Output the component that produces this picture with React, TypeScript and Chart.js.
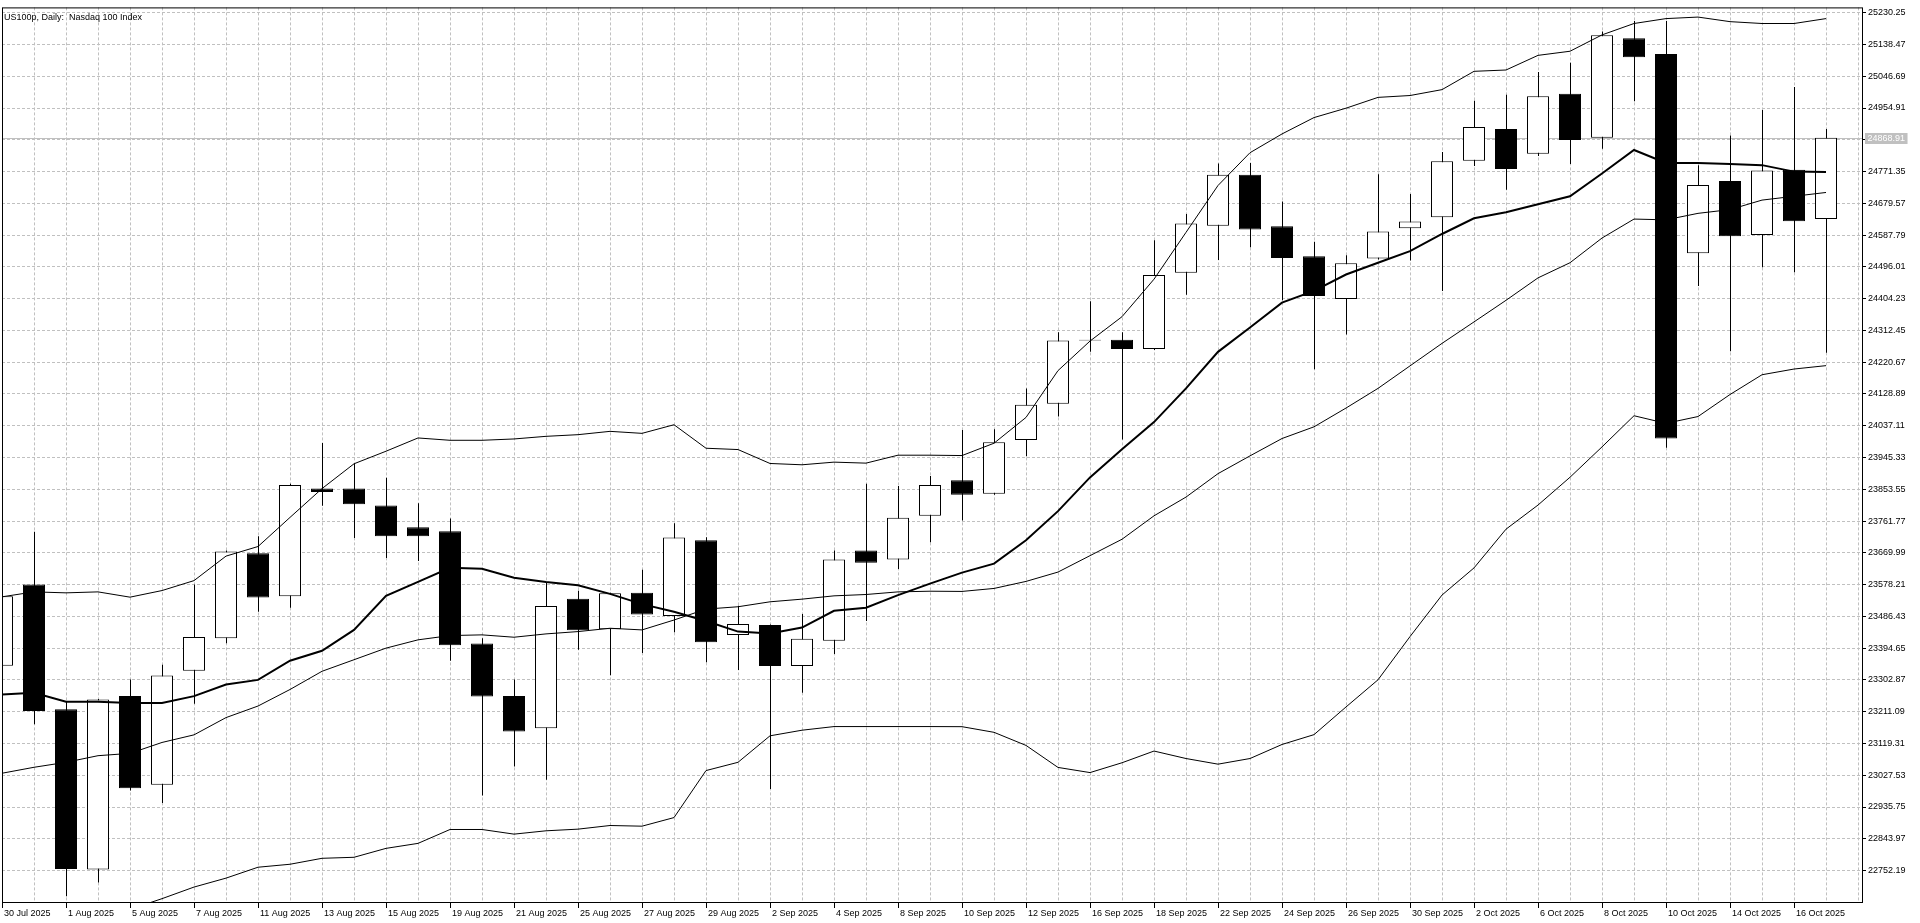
import { useEffect, useRef } from "react";
import { Chart, registerables } from "chart.js";

Chart.register(...registerables);

const TITLE = "US100p, Daily:  Nasdaq 100 Index";

const DATES = [
  "30 Jul 2025", "31 Jul 2025", "1 Aug 2025", "4 Aug 2025", "5 Aug 2025", "6 Aug 2025", "7 Aug 2025", "8 Aug 2025",
  "11 Aug 2025", "12 Aug 2025", "13 Aug 2025", "14 Aug 2025", "15 Aug 2025", "18 Aug 2025", "19 Aug 2025", "20 Aug 2025",
  "21 Aug 2025", "22 Aug 2025", "25 Aug 2025", "26 Aug 2025", "27 Aug 2025", "28 Aug 2025", "29 Aug 2025", "1 Sep 2025",
  "2 Sep 2025", "3 Sep 2025", "4 Sep 2025", "5 Sep 2025", "8 Sep 2025", "9 Sep 2025", "10 Sep 2025", "11 Sep 2025",
  "12 Sep 2025", "15 Sep 2025", "16 Sep 2025", "17 Sep 2025", "18 Sep 2025", "19 Sep 2025", "22 Sep 2025", "23 Sep 2025",
  "24 Sep 2025", "25 Sep 2025", "26 Sep 2025", "29 Sep 2025", "30 Sep 2025", "1 Oct 2025", "2 Oct 2025", "3 Oct 2025",
  "6 Oct 2025", "7 Oct 2025", "8 Oct 2025", "9 Oct 2025", "10 Oct 2025", "13 Oct 2025", "14 Oct 2025", "15 Oct 2025",
  "16 Oct 2025", "17 Oct 2025",
];

const OPEN = [
  23344.0, 23578.3, 23217.8, 22755.1, 23256.1, 22999.9, 23329.7, 23423.4,
  23669.1, 23544.8, 23855.5, 23855.5, 23806.7, 23743.6, 23732.2, 23408.1,
  23256.1, 23163.3, 23537.1, 23449.2, 23554.4, 23487.4, 23706.4, 23432.9,
  23461.6, 23343.1, 23415.7, 23676.7, 23650.9, 23777.1, 23879.7, 23840.5,
  23996.1, 24100.3, 24283.0, 24285.8, 24258.7, 24479.3, 24614.7, 24762.2,
  24613.3, 24526.7, 24403.5, 24519.9, 24607.9, 24639.3, 24802.8, 24894.6,
  24822.9, 24996.0, 24868.8, 25156.2, 25111.2, 24535.4, 24743.8, 24588.0,
  24776.7, 24634.1,
];
const HIGH = [
  23560.0, 23731.2, 23239.9, 23248.0, 23303.9, 23346.9, 23578.3, 23677.0,
  23717.8, 23869.8, 23987.4, 23928.1, 23887.0, 23813.4, 23769.5, 23423.4,
  23303.9, 23585.9, 23560.1, 23555.0, 23621.3, 23755.1, 23715.0, 23517.1,
  23463.0, 23493.2, 23676.7, 23869.8, 23863.1, 23891.8, 24024.5, 24027.2,
  24145.0, 24307.4, 24396.7, 24307.4, 24572.7, 24648.5, 24794.7, 24796.0,
  24685.0, 24568.6, 24529.4, 24763.5, 24706.7, 24827.6, 24975.8, 24993.0,
  25059.0, 25086.0, 25175.9, 25206.6, 25206.6, 24789.8, 24875.4, 24948.9,
  25015.8, 24894.0,
];
const LOW = [
  23330.0, 23174.8, 22677.7, 22717.9, 22983.6, 22947.3, 23234.1, 23409.0,
  23499.9, 23511.3, 23805.8, 23713.0, 23654.7, 23646.1, 23358.4, 22969.3,
  23052.5, 23014.2, 23389.9, 23316.3, 23380.4, 23440.6, 23353.6, 23331.6,
  22987.5, 23265.6, 23377.5, 23473.1, 23623.2, 23700.6, 23763.3, 23838.0,
  23948.7, 24063.8, 24250.6, 23997.5, 24256.0, 24415.7, 24515.9, 24552.4,
  24399.4, 24200.5, 24300.6, 24517.0, 24514.5, 24426.1, 24787.5, 24718.7,
  24816.2, 24793.1, 24837.0, 24974.1, 23973.8, 24441.1, 24252.4, 24494.8,
  24480.5, 24248.0,
];
const CLOSE = [
  23544.8, 23213.1, 22757.0, 23246.5, 22990.3, 23315.4, 23427.2, 23673.9,
  23541.0, 23866.0, 23846.0, 23810.5, 23717.8, 23717.8, 23403.3, 23255.1,
  23153.8, 23516.1, 23446.3, 23553.4, 23492.2, 23714.0, 23411.9, 23464.5,
  23343.1, 23421.5, 23650.9, 23641.3, 23771.4, 23866.0, 23837.7, 23989.3,
  24097.6, 24283.0, 24285.8, 24258.7, 24472.5, 24621.4, 24762.2, 24603.8,
  24521.3, 24411.6, 24506.4, 24598.4, 24626.8, 24800.9, 24900.3, 24778.9,
  24989.2, 24862.2, 25164.9, 25101.3, 24000.2, 24732.8, 24584.7, 24774.5,
  24627.5, 24868.9,
];

// thick moving average
const MA_FAST = [
  23260.9, 23265.6, 23239.8, 23239.8, 23236.0, 23236.0, 23256.1, 23289.5,
  23302.9, 23358.4, 23387.1, 23447.3, 23545.7, 23585.9, 23627.0, 23624.1,
  23598.3, 23585.9, 23576.3, 23551.5, 23521.8, 23499.9, 23473.1, 23442.5,
  23436.8, 23454.0, 23502.7, 23511.3, 23547.7, 23581.1, 23612.7, 23638.8,
  23706.5, 23790.4, 23887.8, 23969.0, 24047.6, 24145.0, 24250.6, 24320.9,
  24392.7, 24426.5, 24473.9, 24507.8, 24541.6, 24591.0, 24636.5, 24653.7,
  24677.0, 24699.9, 24765.7, 24833.7, 24796.4, 24796.4, 24793.1, 24789.9,
  24771.2, 24770.1,
];
// Bollinger bands
const BB_UPPER = [
  23542.9, 23557.2, 23554.4, 23557.2, 23541.9, 23561.0, 23589.7, 23660.5,
  23688.2, 23772.3, 23855.5, 23927.2, 23963.5, 24001.8, 23995.1, 23995.1,
  23998.9, 24006.5, 24011.3, 24020.9, 24015.1, 24040.0, 23972.1, 23968.3,
  23928.1, 23924.3, 23932.0, 23929.1, 23952.0, 23952.0, 23951.0, 23986.6,
  24061.1, 24196.4, 24281.7, 24352.1, 24460.4, 24595.7, 24731.1, 24825.8,
  24880.0, 24927.3, 24954.4, 24985.6, 24991.0, 25008.0, 25060.9, 25064.7,
  25107.0, 25118.9, 25166.1, 25199.0, 25213.2, 25217.6, 25204.4, 25199.0,
  25199.0, 25213.2,
];
const BB_MIDDLE = [
  23033.3, 23050.5, 23064.9, 23084.0, 23090.7, 23122.2, 23144.2, 23194.0,
  23227.4, 23275.2, 23327.8, 23361.2, 23394.7, 23418.6, 23431.0, 23433.0,
  23426.2, 23435.8, 23442.5, 23452.1, 23447.3, 23475.9, 23507.5, 23514.2,
  23528.5, 23536.2, 23545.7, 23549.6, 23557.2, 23559.1, 23558.5, 23567.1,
  23587.4, 23614.4, 23661.8, 23709.2, 23776.9, 23831.0, 23898.7, 23950.1,
  24000.2, 24034.0, 24088.2, 24145.0, 24210.0, 24275.0, 24337.0, 24399.4,
  24464.2, 24508.0, 24579.3, 24634.1, 24631.9, 24650.6, 24661.5, 24688.9,
  24699.9, 24710.9,
];
const BB_LOWER = [
  22520.0, 22544.0, 22575.0, 22610.0, 22640.0, 22671.0, 22704.5, 22730.3,
  22761.8, 22770.4, 22787.6, 22790.5, 22816.3, 22830.7, 22870.8, 22870.8,
  22857.4, 22867.0, 22871.8, 22882.3, 22880.4, 22905.2, 23041.0, 23064.9,
  23141.4, 23157.6, 23168.1, 23168.1, 23168.1, 23168.1, 23167.8, 23151.5,
  23113.7, 23050.1, 23035.2, 23063.6, 23097.4, 23075.8, 23059.5, 23075.8,
  23116.4, 23144.8, 23224.7, 23303.2, 23428.0, 23548.0, 23626.4, 23738.3,
  23808.0, 23888.3, 23976.0, 24066.0, 24044.0, 24063.7, 24127.3, 24184.4,
  24200.9, 24210.7,
];

const Y_TICKS = [
  25230.25, 25138.47, 25046.69, 24954.91, 24863.13, 24771.35, 24679.57, 24587.79,
  24496.01, 24404.23, 24312.45, 24220.67, 24128.89, 24037.11, 23945.33, 23853.55,
  23761.77, 23669.99, 23578.21, 23486.43, 23394.65, 23302.87, 23211.09, 23119.31,
  23027.53, 22935.75, 22843.97, 22752.19,
];
const BID = 24868.91;

const Y_MIN = 22661.36;
const Y_MAX = 25245.54;
const X_MAX = 58.125;
const HALF_PX = 0.5 / 32;

const FONT = { family: "'Liberation Sans', Arial, sans-serif", size: 9 };
const GRID = "rgb(192,192,192)";

const overlayPlugin = {
  id: "mt5overlay",
  beforeDraw(chart: any) {
    const { ctx, width, height } = chart;
    ctx.save();
    ctx.fillStyle = "#ffffff";
    ctx.fillRect(0, 0, width, height);
    ctx.restore();
  },
  beforeDatasetsDraw(chart: any) {
    const { ctx, chartArea } = chart;
    const y = Math.round(chart.scales.y.getPixelForValue(BID)) + 0.5;
    ctx.save();
    ctx.strokeStyle = GRID;
    ctx.lineWidth = 1;
    ctx.beginPath();
    ctx.moveTo(chartArea.left, y);
    ctx.lineTo(chartArea.right, y);
    ctx.stroke();
    ctx.restore();
  },
  afterDraw(chart: any) {
    const { ctx, chartArea } = chart;
    ctx.save();
    // frame
    ctx.strokeStyle = "#000";
    ctx.lineWidth = 1;
    ctx.strokeRect(chartArea.left + 0.5, chartArea.top + 0.5, chartArea.right - chartArea.left, chartArea.bottom - chartArea.top);
    // title
    ctx.font = `${FONT.size}px ${FONT.family}`;
    ctx.fillStyle = "#000";
    ctx.textBaseline = "alphabetic";
    ctx.textAlign = "left";
    ctx.fillText(TITLE, chartArea.left + 2, chartArea.top + 12.5);
    // bid label
    const py = Math.round(chart.scales.y.getPixelForValue(BID)) + 0.5;
    const txt = BID.toFixed(2);
    const tw = ctx.measureText(txt).width;
    const bx = chartArea.right + 3;
    ctx.fillStyle = "rgb(192,192,192)";
    ctx.fillRect(bx, py - 5.5, tw + 5, 11);
    ctx.fillStyle = "#ffffff";
    ctx.textBaseline = "middle";
    ctx.fillText(txt, bx + 2.5, py + 0.5);
    ctx.restore();
  },
};

export default function App() {
  const ref = useRef<HTMLCanvasElement | null>(null);

  useEffect(() => {
    document.body.style.margin = "0";
    document.body.style.overflow = "hidden";
    const canvas = ref.current;
    if (!canvas) return;

    const line = (data: number[], width: number) => ({
      type: "line" as const,
      data: data.map((v, i) => ({ x: i, y: v })),
      xAxisID: "x",
      yAxisID: "y",
      borderColor: "#000",
      borderWidth: width,
      pointRadius: 0,
      tension: 0,
      fill: false,
      order: 0,
    });

    const chart = new Chart(canvas, {
      type: "bar",
      data: {
        datasets: [
          line(MA_FAST, 2) as any,
          line(BB_UPPER, 1) as any,
          line(BB_MIDDLE, 1) as any,
          line(BB_LOWER, 1) as any,
          {
            type: "bar",
            data: OPEN.map((o, i) => ({ x: i, y: [o, CLOSE[i]] })),
            xAxisID: "x",
            yAxisID: "y",
            grouped: false,
            backgroundColor: OPEN.map((o, i) => (CLOSE[i] >= o ? "#ffffff" : "#000000")),
            borderColor: "#000",
            borderWidth: 1,
            borderSkipped: false,
            barThickness: 22,
            inflateAmount: 0,
            order: 1,
          } as any,
          {
            type: "bar",
            data: OPEN.map((_, i) => ({ x: i, y: [LOW[i], HIGH[i]] })),
            xAxisID: "xw",
            yAxisID: "y",
            grouped: false,
            backgroundColor: "#000",
            borderWidth: 0,
            barThickness: 1,
            inflateAmount: 0,
            order: 2,
          } as any,
        ],
      },
      options: {
        animation: false,
        responsive: false,
        maintainAspectRatio: false,
        devicePixelRatio: 1,
        events: [],
        layout: { padding: { left: 2, top: 1, right: 0, bottom: 0 } },
        plugins: {
          legend: { display: false },
          tooltip: { enabled: false },
          title: { display: false },
        },
        scales: {
          x: {
            type: "linear",
            position: "bottom",
            min: 0,
            max: X_MAX,
            offset: false,
            afterBuildTicks: (scale: any) => {
              scale.ticks = Array.from({ length: 59 }, (_, i) => ({ value: i }));
            },
            afterFit: (scale: any) => {
              scale.height = 21;
            },
            grid: {
              offset: false,
              color: GRID,
              lineWidth: 1,
              drawTicks: true,
              tickLength: 6,
              tickColor: (c: any) => (c.index % 2 === 0 && c.index < DATES.length ? "#000" : "rgba(0,0,0,0)"),
              tickBorderDash: [],
            },
            border: { display: false, dash: [3, 2] },
            ticks: {
              autoSkip: false,
              maxRotation: 0,
              minRotation: 0,
              align: "start",
              labelOffset: 2,
              padding: 0,
              color: "#000",
              font: FONT,
              callback: (v: any, idx: number) => (idx % 2 === 0 && DATES[idx] ? DATES[idx] : ""),
            },
          },
          xw: {
            type: "linear",
            display: false,
            min: -HALF_PX,
            max: X_MAX - HALF_PX,
            offset: false,
            grid: { offset: false },
          },
          y: {
            type: "linear",
            position: "right",
            min: Y_MIN,
            max: Y_MAX,
            afterBuildTicks: (scale: any) => {
              scale.ticks = Y_TICKS.map((v) => ({ value: v }));
            },
            afterFit: (scale: any) => {
              scale.width = 58;
            },
            grid: {
              color: GRID,
              lineWidth: 1,
              drawTicks: true,
              tickLength: 4,
              tickColor: "#000",
              tickBorderDash: [],
            },
            border: { display: false, dash: [3, 2] },
            ticks: {
              padding: 2,
              color: "#000",
              font: FONT,
              callback: (v: any) => (Math.abs(Number(v) - BID) < 10 ? "" : Number(v).toFixed(2)),
            },
          },
        },
      } as any,
      plugins: [overlayPlugin],
    });

    return () => chart.destroy();
  }, []);

  return (
    <div style={{ position: "absolute", left: 0, top: 0, width: 1920, height: 923, background: "#fff" }}>
      <canvas ref={ref} width={1920} height={923} style={{ display: "block", width: 1920, height: 923 }} />
    </div>
  );
}
